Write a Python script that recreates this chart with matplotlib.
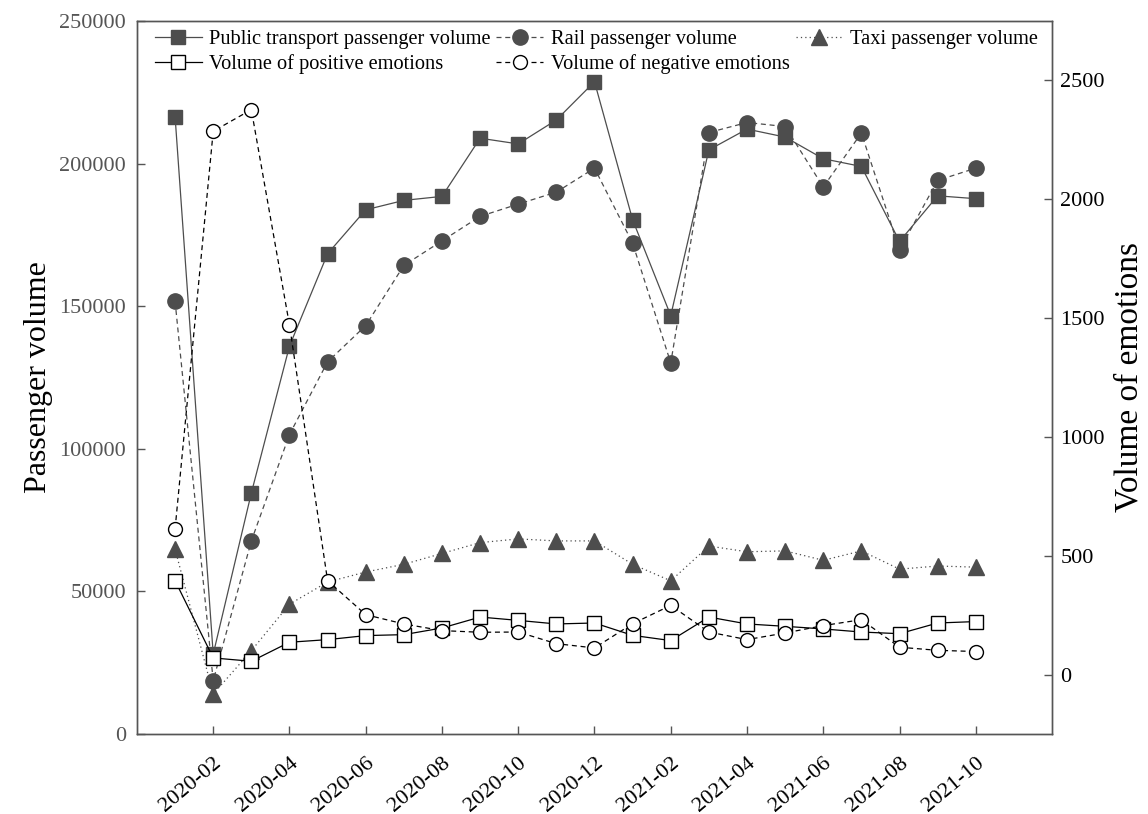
import matplotlib
matplotlib.use("Agg")
import matplotlib.pyplot as plt

plt.rcParams['font.family'] = ['Liberation Serif', 'DejaVu Serif']

months = ["2020-01", "2020-02", "2020-03", "2020-04", "2020-05", "2020-06",
          "2020-07", "2020-08", "2020-09", "2020-10", "2020-11", "2020-12",
          "2021-01", "2021-02", "2021-03", "2021-04", "2021-05", "2021-06",
          "2021-07", "2021-08", "2021-09", "2021-10"]

public_transport = [216400, 28000, 84500, 136000, 168400, 183800, 187100, 188500,
                    208900, 206900, 215300, 228700, 180300, 146700, 204800, 212100,
                    209300, 201700, 199000, 172700, 188700, 187700]
rail = [151700, 18700, 67700, 105000, 130500, 143200, 164300, 172900,
        181500, 185800, 190000, 198400, 172100, 130100, 210900, 214400,
        213000, 191800, 210700, 169800, 194100, 198400]
taxi = [64800, 14000, 29200, 45500, 53300, 56800, 59500, 63300,
        67100, 68400, 67700, 67700, 59500, 53700, 65900, 63900,
        64200, 60900, 64200, 57800, 58900, 58500]
positive = [395, 70, 56, 136, 147, 164, 168, 196, 242, 228, 213, 217,
            165, 143, 242, 213, 203, 192, 179, 172, 217, 223]
negative = [613, 2286, 2377, 1471, 395, 252, 213, 185, 178, 179, 130, 112,
            214, 291, 179, 147, 175, 206, 231, 115, 102, 97]

left_ticks = [0, 50000, 100000, 150000, 200000, 250000]
right_ticks = [0, 500, 1000, 1500, 2000, 2500]

GRAY = "#4d4d4d"
SPINE = "#555555"

fig = plt.figure(figsize=(11.48, 8.14), dpi=100)
ax = fig.add_axes([0.1193, 0.0983, 0.7971, 0.8759])
ax2 = ax.twinx()

x = list(range(len(months)))

l1, = ax.plot(x, public_transport, color=GRAY, lw=0.9, ls='-', marker='s',
              ms=10, mfc=GRAY, mec=GRAY)
l2, = ax.plot(x, rail, color=GRAY, lw=0.9, ls=(0, (4, 3)), marker='o',
              ms=11, mfc=GRAY, mec=GRAY)
l3, = ax.plot(x, taxi, color=GRAY, lw=0.9, ls=(0, (1, 2.5)), marker='^',
              ms=12, mfc=GRAY, mec=GRAY)
l4, = ax2.plot(x, positive, color='black', lw=0.9, ls='-', marker='s',
               ms=10, mfc='white', mec='black', mew=1.0)
l5, = ax2.plot(x, negative, color='black', lw=0.9, ls=(0, (4, 3)), marker='o',
               ms=10, mfc='white', mec='black', mew=1.0)

ax.set_xlim(-1, 23)
ax.set_ylim(0, 250000)
ax2.set_ylim(-250, 2750)

ax.set_yticks(left_ticks)
ax.set_yticklabels([str(v) for v in left_ticks], color=SPINE, fontsize=16)
ax2.set_yticks(right_ticks)
ax2.set_yticklabels([str(v) for v in right_ticks], color='black', fontsize=16)

xt = x[1::2]
ax.set_xticks(xt)
ax.set_xticklabels([months[i] for i in xt], rotation=40, ha='right',
                   rotation_mode='anchor', fontsize=16)

ax.tick_params(axis='x', direction='in', length=6, width=1, color=SPINE, pad=14)
ax.tick_params(axis='y', direction='in', length=6, width=1, color=SPINE, pad=8)
ax2.tick_params(axis='y', direction='in', length=6, width=1, color=SPINE, pad=6)

for a in (ax, ax2):
    for s in a.spines.values():
        s.set_color(SPINE)
        s.set_linewidth(1.0)

ax.set_ylabel("Passenger volume", fontsize=23)
ax.yaxis.set_label_coords(-0.092, 0.5)
ax2.set_ylabel("Volume of emotions", fontsize=24)
ax2.yaxis.set_label_coords(1.068, 0.5)

handles = [l1, l4, l2, l5, l3]
labels = ["Public transport passenger volume", "Volume of positive emotions",
          "Rail passenger volume", "Volume of negative emotions",
          "Taxi passenger volume"]
leg = ax.legend(handles, labels, ncol=3, loc='upper left',
                bbox_to_anchor=(0.015, 0.994), frameon=False, fontsize=14.7,
                handlelength=2.3, handletextpad=0.35, columnspacing=0.3,
                labelspacing=0.25, borderaxespad=0.0, borderpad=0.2)

fig.savefig("out.png", dpi=100)
